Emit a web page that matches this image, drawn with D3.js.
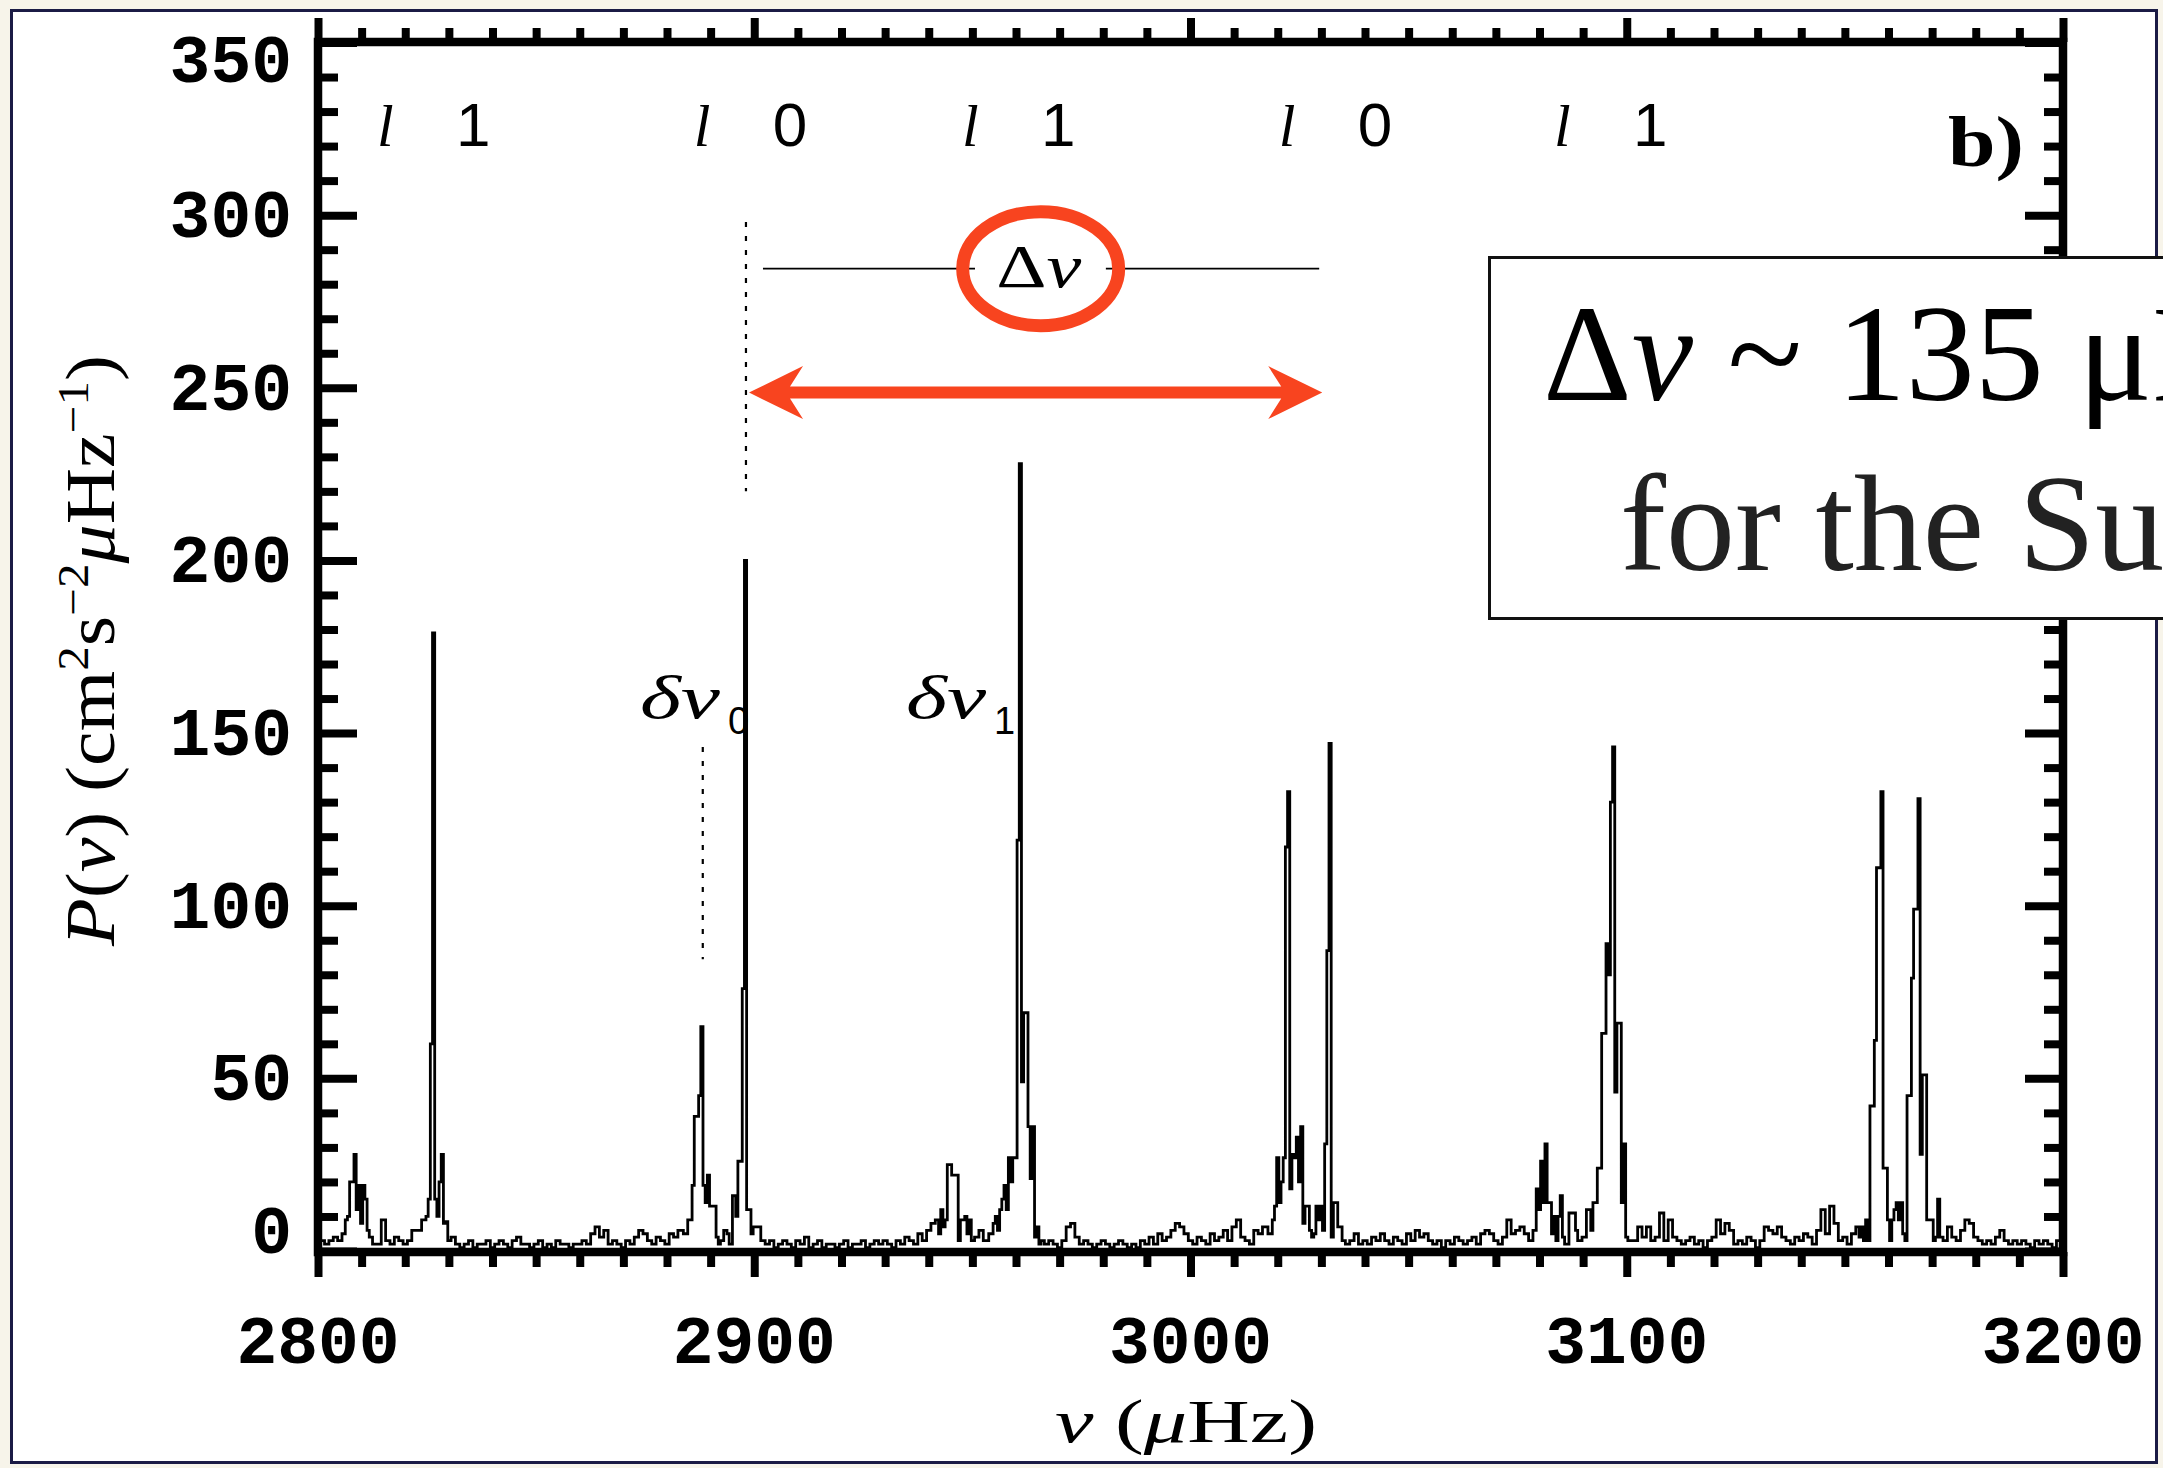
<!DOCTYPE html>
<html><head><meta charset="utf-8">
<script src="https://cdn.jsdelivr.net/npm/d3@7"></script>
<style>
html,body{margin:0;padding:0;background:#f7f4ea;}
svg{display:block;}
</style></head><body>
<svg id="chart" width="2163" height="1468"></svg>
<script>
// ---------------- data ----------------
const xDomain = [2800, 3200];
const yDomain = [0, 350];
const xTickLabels = [2800, 2900, 3000, 3100, 3200];
const yTickLabels = [0, 50, 100, 150, 200, 250, 300, 350];

// background power at 1 microHz steps, 2800..3200
const noiseStart = 2800;
const noiseStep = 1;
const noisePower = [
  2,3,2,3,4,3,2,2,2,2,2,2,3,2,2,9,3,2,4,3,
  2,3,6,5,3,2,2,2,2,3,3,4,2,1,2,3,1,2,2,3,
  1,2,3,2,1,3,4,2,2,1,2,3,1,2,1,3,2,2,1,2,
  2,3,2,5,7,4,6,2,3,2,1,3,2,4,6,5,3,2,4,3,
  2,5,4,6,3,3,3,3,3,3,3,3,3,3,3,3,3,3,3,3,
  4,7,3,2,3,1,2,3,2,1,3,2,4,1,2,3,1,2,2,1,
  2,3,1,2,2,3,1,2,3,2,3,2,1,3,2,4,3,2,5,3,
  6,8,3,3,3,3,3,3,3,3,3,4,6,3,3,3,3,3,3,3,
  3,3,3,3,3,3,5,2,3,2,1,3,7,8,4,2,3,2,1,2,
  3,2,1,2,3,2,1,2,1,3,2,4,2,5,3,4,6,8,7,5,
  3,2,4,3,2,5,3,4,6,3,7,9,4,3,2,6,5,7,4,3,
  3,3,3,3,3,3,3,3,3,3,3,3,3,3,3,4,2,3,5,2,
  3,2,4,3,5,3,2,4,3,2,5,3,6,4,5,3,2,3,1,3,
  2,4,3,2,3,4,2,5,6,5,3,2,4,9,5,6,7,5,3,3,
  3,3,3,3,3,3,3,3,3,3,3,3,3,3,3,3,3,3,3,3,
  3,5,3,7,4,7,3,4,11,3,9,4,3,2,3,4,2,3,1,3,
  4,9,5,8,6,2,3,2,4,3,1,3,7,6,5,7,4,3,2,4,
  3,5,4,2,6,12,5,13,8,3,4,2,5,7,7,9,3,3,3,3,
  3,3,3,3,3,3,3,3,3,3,3,3,3,3,7,4,3,6,9,8,
  4,3,2,3,2,4,6,3,2,3,2,3,2,1,3,2,3,2,1,3,
  2
];

// p-mode peak bins [frequency (microHz), power]
const peakBins = [
  [2806.0,5],[2806.5,9],[2807.0,10],[2807.5,20],[2808.0,20],[2808.5,28],[2809.0,12],[2809.5,19],[2810.0,8],[2810.5,19],[2811.0,15],[2811.5,6],[2812.0,4],
  [2823.5,6],[2824.0,9],[2824.5,9],[2825.0,10],[2825.5,15],[2826.0,60],[2826.5,179],[2827.0,15],[2827.5,10],[2828.0,20],[2828.5,28],[2829.0,8],[2829.5,8.5],[2830.0,3],[2831.0,4],
  [2884.5,5],[2885.0,9],[2885.5,9],[2886.0,19],[2886.5,39],[2887.0,39],[2887.5,45],[2888.0,65],[2888.5,19],[2889.0,14],[2889.5,22],[2890.0,13],[2890.5,13],[2891.0,13],[2891.5,4],[2892.0,2],[2892.5,3],[2893.5,6],[2894.0,5],[2894.5,2],[2895.5,16],[2896.0,10],[2896.5,26],[2897.0,26],[2897.5,76],[2898.0,200],[2898.5,12],[2899.0,12],[2899.5,5],[2900.0,7],
  [2942.0,9],[2942.5,5],[2943.0,12],[2943.5,7],[2944.0,9],[2944.5,25],[2945.0,25],[2945.5,22],[2946.0,22],[2946.5,22],[2947.0,3],[2947.5,9],[2948.0,9],[2948.5,10],[2949.0,5],[2949.5,9],[2950.0,3],
  [2954.5,5],[2955.0,8],[2955.5,10],[2956.0,6],[2956.5,12],[2957.0,15],[2957.5,19],[2958.0,12],[2958.5,27],[2959.0,20],[2959.5,27],[2960.0,27],[2960.5,119],[2961.0,228],[2961.5,49],[2962.0,69],[2962.5,69],[2963.0,36],[2963.5,21],[2964.0,36],[2964.5,4],[2965.0,7],[2965.5,2],[2966.0,3],
  [3018.5,5],[3019.0,9],[3019.5,13],[3020.0,27],[3020.5,14],[3021.0,20],[3021.5,27],[3022.0,117],[3022.5,133],[3023.0,18],[3023.5,28],[3024.0,27],[3024.5,33],[3025.0,20],[3025.5,36],[3026.0,8],[3026.5,13],[3027.0,13],[3027.5,6],[3028.0,4],[3028.5,5],[3029.0,13],[3029.5,9],[3030.0,13],[3030.5,6],[3031.0,31],[3031.5,87],[3032.0,147],[3032.5,4],[3033.0,14],[3033.5,14],[3034.0,7],[3034.5,7],[3035.0,3],
  [3079.0,6],[3079.5,18],[3080.0,12],[3080.5,26],[3081.0,14],[3081.5,31],[3082.0,14],[3082.5,14],[3083.0,5],[3083.5,10],[3084.0,3],[3084.5,10],[3085.0,16],[3085.5,4],[3086.0,2],[3087.5,11],[3088.0,11],[3088.5,6],[3089.0,3],[3090.5,4],[3091.0,12],[3091.5,12],[3092.0,6],[3092.5,14],[3093.0,14],[3093.5,24],[3094.0,24],[3094.5,63],[3095.0,63],[3095.5,89],[3096.0,80],[3096.5,130],[3097.0,146],[3097.5,46],[3098.0,66],[3098.5,66],[3099.0,14],[3099.5,31],[3100.0,4],[3100.5,3],
  [3153.0,7],[3153.5,4],[3154.0,7],[3154.5,3],[3155.0,9],[3155.5,3],[3156.0,42],[3156.5,42],[3157.0,61],[3157.5,111],[3158.0,111],[3158.5,133],[3159.0,24],[3159.5,24],[3160.0,9],[3160.5,3],[3161.0,9],[3161.5,12],[3162.0,14],[3162.5,9],[3163.0,14],[3163.5,5],[3164.0,3],[3164.5,45],[3165.0,45],[3165.5,79],[3166.0,99],[3166.5,99],[3167.0,131],[3167.5,28],[3168.0,51],[3168.5,51],[3169.0,9],[3169.5,9],[3170.0,9],[3170.5,3],[3171.0,4],[3171.5,15],[3172.0,4]
];

// mode degree labels along the top
const modeLabelFreq = [2825.5, 2898.1, 2959.6, 3032.2, 3095.3];
const modeLabelDegree = ["1", "0", "1", "0", "1"];
const modeLabelPower = 320;

// dotted markers
const dottedFreq = [2898.1, 2888.2];
const dottedFrom = [298, 146];
const dottedTo = [220, 84.5];

// large separation line (with gap for its label) and arrow
const deltaNuSegments = [[2902, 2950.6], [2980.6, 3029.5]];
const deltaNuPower = 284.5;
const deltaNuLabelFreq = 2965.2;
const arrowFreq = [2898.8, 3030.2];
const arrowPower = 248.6;

// small separation labels
const smallSepFreq = [2873.8, 2934.8];
const smallSepSub = ["0", "1"];
const smallSepPower = 154.4;

// ---------------- drawing ----------------
const svg = d3.select("#chart");
const W = 2163, H = 1468;
const RED = "#f8441f";

svg.append("rect").attr("width", W).attr("height", H).attr("fill", "#f7f4ea");
svg.append("rect").attr("x", 11.5).attr("y", 10.5).attr("width", 2145).attr("height", 1452)
  .attr("fill", "#ffffff").attr("stroke", "#1b1b45").attr("stroke-width", 3);

const x = d3.scaleLinear().domain(xDomain).range([318, 2063]);
const y = d3.scaleLinear().domain(yDomain).range([1251, 42.5]);

// spectrum
const noisePts = noisePower.map((p, i) => [noiseStart + i * noiseStep, p]);
const spectrum = noisePts
  .filter(([f]) => !peakBins.some(([pf]) => Math.abs(pf - f) <= 0.5))
  .concat(peakBins)
  .sort((a, b) => a[0] - b[0]);

svg.append("path")
  .datum(spectrum)
  .attr("fill", "none")
  .attr("stroke", "#000")
  .attr("stroke-width", 2.8)
  .attr("d", d3.line().x(d => x(d[0])).y(d => y(d[1])).curve(d3.curveStep));

// ticks
const xMinor = d3.range(2800, 3201, 10).filter(v => !xTickLabels.includes(v));
const yMinor = d3.range(0, 351, 10).filter(v => !yTickLabels.includes(v));
function ticks(gen, scale, values, size, tr) {
  svg.append("g").attr("transform", tr)
    .call(gen(scale).tickValues(values).tickSize(size).tickFormat(""))
    .call(g => {
      g.select(".domain").remove();
      g.selectAll("line").attr("stroke", "#000").attr("stroke-width", 8);
    });
}
ticks(d3.axisBottom, x, xMinor, 15, "translate(0,1252)");
ticks(d3.axisBottom, x, xTickLabels, 25, "translate(0,1252)");
ticks(d3.axisTop, x, xMinor, 14, "translate(0,42)");
ticks(d3.axisTop, x, xTickLabels, 24, "translate(0,42)");
ticks(d3.axisRight, y, yMinor, 20, "translate(318,0)");
ticks(d3.axisRight, y, yTickLabels, 39, "translate(318,0)");
ticks(d3.axisLeft, y, yMinor, 19, "translate(2063,0)");
ticks(d3.axisLeft, y, yTickLabels, 38, "translate(2063,0)");

// frame
svg.append("rect").attr("x", 318).attr("y", 42).attr("width", 2063 - 318).attr("height", 1252 - 42)
  .attr("fill", "none").attr("stroke", "#000").attr("stroke-width", 8.5);

// tick labels
svg.append("g").selectAll("text").data(xTickLabels).join("text")
  .attr("x", d => x(d)).attr("y", 1363)
  .attr("text-anchor", "middle")
  .attr("font-family", "Liberation Mono").attr("font-weight", "bold").attr("font-size", 68)
  .text(d => d);
svg.append("g").selectAll("text").data(yTickLabels).join("text")
  .attr("x", 292)
  .attr("y", d => Math.min(Math.max(y(d), y(350) + 17), y(0) - 20) + 22)
  .attr("text-anchor", "end")
  .attr("font-family", "Liberation Mono").attr("font-weight", "bold").attr("font-size", 68)
  .text(d => d);

// axis titles
const xt = svg.append("text").attr("x", 1055).attr("y", 1442)
  .attr("font-family", "Liberation Serif").attr("font-size", 62)
  .attr("textLength", 262).attr("lengthAdjust", "spacingAndGlyphs");
xt.append("tspan").attr("font-style", "italic").text("ν");
xt.append("tspan").text(" (");
xt.append("tspan").attr("font-style", "italic").text("μ");
xt.append("tspan").text("Hz)");

const yt = svg.append("text").attr("transform", "translate(114,946) rotate(-90)")
  .attr("font-family", "Liberation Serif").attr("font-size", 70)
  .attr("textLength", 591).attr("lengthAdjust", "spacingAndGlyphs");
yt.append("tspan").attr("font-style", "italic").text("P");
yt.append("tspan").text("(");
yt.append("tspan").attr("font-style", "italic").text("ν");
yt.append("tspan").text(") (cm");
yt.append("tspan").attr("dy", -26).attr("font-size", 44).text("2");
yt.append("tspan").attr("dy", 26).text("s");
yt.append("tspan").attr("dy", -26).attr("font-size", 44).text("−2");
yt.append("tspan").attr("dy", 26).attr("font-style", "italic").text("μ");
yt.append("tspan").text("Hz");
yt.append("tspan").attr("dy", -26).attr("font-size", 44).text("−1");
yt.append("tspan").attr("dy", 26).text(")");

// mode labels
modeLabelFreq.forEach((f, i) => {
  svg.append("text").attr("x", x(f) - 44).attr("y", y(modeLabelPower))
    .attr("text-anchor", "middle").attr("font-family", "Liberation Serif").attr("font-style", "italic")
    .attr("font-size", 60).text("l");
  svg.append("text").attr("x", x(f) + 44).attr("y", y(modeLabelPower))
    .attr("text-anchor", "middle").attr("font-family", "Liberation Sans")
    .attr("font-size", 62).text(modeLabelDegree[i]);
});

// panel tag
svg.append("text").attr("x", 1948).attr("y", 166)
  .attr("font-family", "Liberation Serif").attr("font-weight", "bold").attr("font-size", 72)
  .attr("textLength", 76).attr("lengthAdjust", "spacingAndGlyphs").text("b)");

// dotted markers
dottedFreq.forEach((f, i) => {
  svg.append("line").attr("x1", x(f)).attr("x2", x(f)).attr("y1", y(dottedFrom[i])).attr("y2", y(dottedTo[i]))
    .attr("stroke", "#000").attr("stroke-width", 2.2).attr("stroke-dasharray", "5,9");
});

// small separation labels
smallSepFreq.forEach((f, i) => {
  svg.append("text").attr("x", x(f)).attr("y", y(smallSepPower))
    .attr("font-family", "Liberation Serif").attr("font-style", "italic").attr("font-size", 62)
    .attr("textLength", 80).attr("lengthAdjust", "spacingAndGlyphs").text("δν");
  svg.append("text").attr("x", x(f) + 88).attr("y", y(smallSepPower) + 16)
    .attr("font-family", "Liberation Sans").attr("font-size", 38).text(smallSepSub[i]);
});

// large separation line and label
deltaNuSegments.forEach(s => {
  svg.append("line").attr("x1", x(s[0])).attr("x2", x(s[1])).attr("y1", y(deltaNuPower)).attr("y2", y(deltaNuPower))
    .attr("stroke", "#000").attr("stroke-width", 1.8);
});
const dn = svg.append("text").attr("x", x(deltaNuLabelFreq)).attr("y", y(deltaNuPower) + 18)
  .attr("text-anchor", "middle").attr("font-family", "Liberation Serif").attr("font-size", 62)
  .attr("textLength", 85).attr("lengthAdjust", "spacingAndGlyphs");
dn.append("tspan").text("Δ");
dn.append("tspan").attr("font-style", "italic").text("ν");

// red ellipse
svg.append("ellipse").attr("cx", x(deltaNuLabelFreq) + 2).attr("cy", y(deltaNuPower))
  .attr("rx", 78).attr("ry", 57).attr("fill", "none").attr("stroke", RED).attr("stroke-width", 13);

// red double arrow
{
  const x1 = x(arrowFreq[0]), x2 = x(arrowFreq[1]), yy = y(arrowPower);
  const L = 54, Wd = 26.5, t = 6, n = 13;
  const pts = [
    [x1, yy], [x1 + L, yy - Wd], [x1 + L - n, yy - t], [x2 - L + n, yy - t], [x2 - L, yy - Wd],
    [x2, yy], [x2 - L, yy + Wd], [x2 - L + n, yy + t], [x1 + L - n, yy + t], [x1 + L, yy + Wd]
  ];
  svg.append("path").attr("d", d3.line()(pts) + "Z").attr("fill", RED);
}

// annotation box (extends past the right edge, as in the original slide)
svg.append("rect").attr("x", 1489.5).attr("y", 257.5).attr("width", 900).attr("height", 361)
  .attr("fill", "#fff").attr("stroke", "#111").attr("stroke-width", 3);
const t1 = svg.append("text").attr("x", 1543).attr("y", 400)
  .attr("font-family", "Liberation Serif").attr("font-size", 138).attr("fill", "#000");
t1.append("tspan").text("Δ");
t1.append("tspan").attr("font-style", "italic").text("ν");
t1.append("tspan").text(" ~ 135 μHz");
svg.append("text").attr("x", 1620).attr("y", 570)
  .attr("font-family", "Liberation Serif").attr("font-size", 138).attr("fill", "#222")
  .text("for the Sun");
</script>
</body></html>
